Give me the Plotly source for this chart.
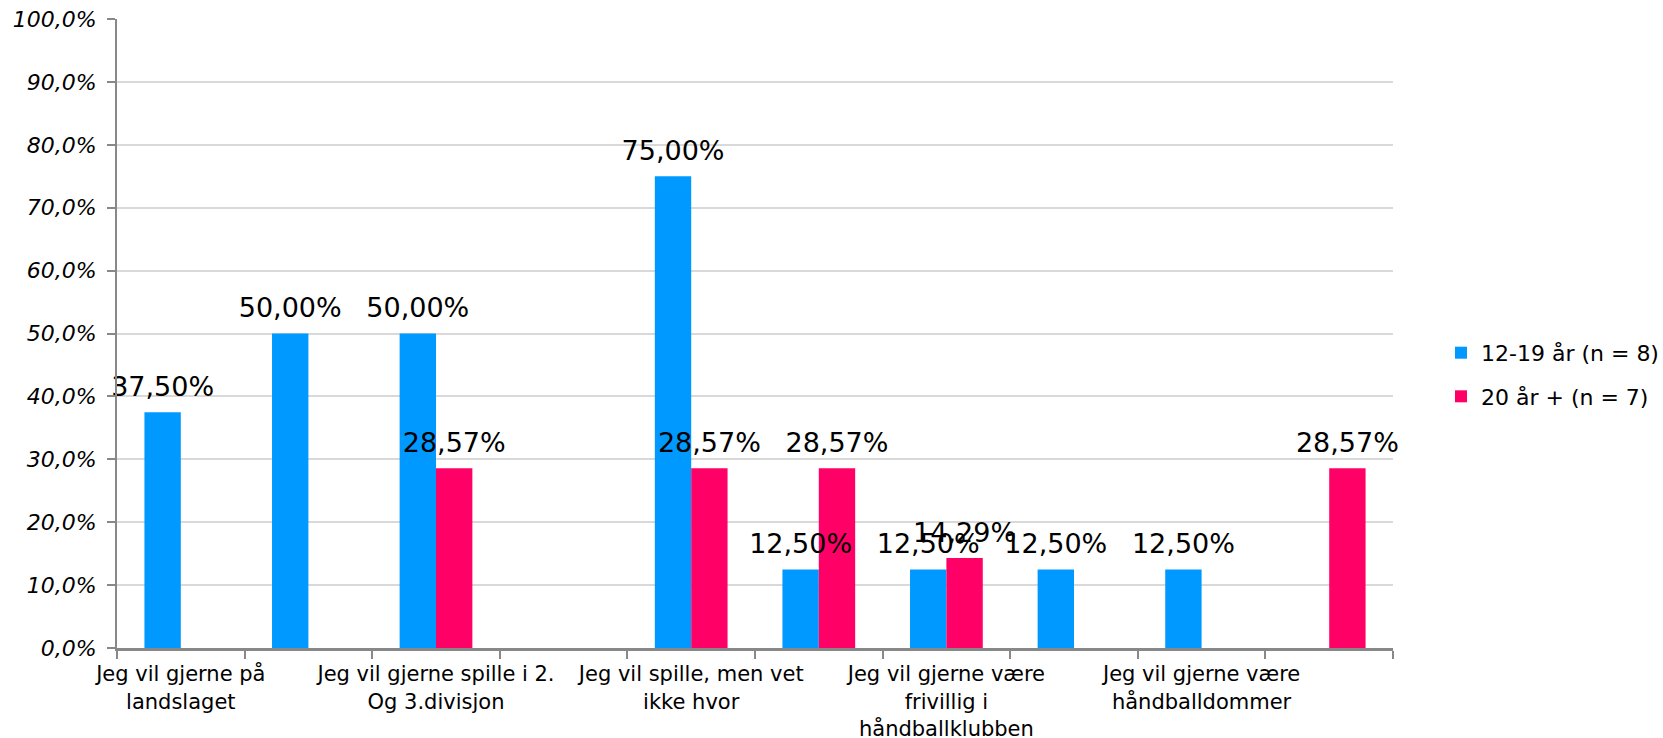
import plotly.graph_objects as go

# Data
category_keys = ["c1", "c2", "c3", "c4", "c5", "c6", "c7", "c8", "c9", "c10"]
category_labels = [
    "Jeg vil gjerne på<br>landslaget", "",
    "Jeg vil gjerne spille i 2.<br>Og 3.divisjon", "",
    "Jeg vil spille, men vet<br>ikke hvor", "",
    "Jeg vil gjerne være<br>frivillig i<br>håndballklubben", "",
    "Jeg vil gjerne være<br>håndballdommer", "",
]
series_names = ["12-19 år (n = 8)", "20 år + (n = 7)"]
values_12_19 = [37.5, 50.0, 50.0, None, 75.0, 12.5, 12.5, 12.5, 12.5, None]
values_20 = [None, None, 28.57, None, 28.57, 28.57, 14.29, None, None, 28.57]
colors = ["#0099FF", "#FF0066"]
y_ticks = [0, 10, 20, 30, 40, 50, 60, 70, 80, 90, 100]
y_tick_text = [f"{v:.1f}".replace(".", ",") + "%" for v in y_ticks]

FONT = "DejaVu Sans"
GAP = 0.43


def fmt(v):
    return "" if v is None else f"{v:.2f}".replace(".", ",") + "%"


fig = go.Figure()
all_series = [values_12_19, values_20]
for i, (name, vals) in enumerate(zip(series_names, all_series)):
    fig.add_trace(go.Bar(
        x=category_keys, y=vals, name=name,
        marker=dict(color=colors[i], line=dict(width=0)),
        textposition="none",
        offsetgroup=f"s{i}", alignmentgroup="a",
        legendgroup=f"g{i}",
    ))
# data labels drawn on top of all bars
for i, vals in enumerate(all_series):
    fig.add_trace(go.Scatter(
        x=category_keys, y=vals, mode="markers+text",
        text=[fmt(v) for v in vals], textposition="top center",
        textfont=dict(family=FONT, size=27, color="#000000"),
        marker=dict(size=14, color="rgba(0,0,0,0)"),
        offsetgroup=f"s{i}", alignmentgroup="a",
        showlegend=False, hoverinfo="skip", cliponaxis=False,
    ))

fig.update_layout(
    width=1663, height=738,
    margin=dict(l=117, r=270, t=19, b=90, autoexpand=False),
    paper_bgcolor="white", plot_bgcolor="white",
    barmode="group", bargap=GAP, bargroupgap=0,
    scattermode="group", scattergap=GAP,
    font=dict(family=FONT, color="#000000"),
    showlegend=True,
    legend=dict(xref="container", yref="container", x=0.8665, y=0.492,
                xanchor="left", yanchor="middle",
                font=dict(family=FONT, size=22, color="#000000"),
                traceorder="grouped", tracegroupgap=12,
                bgcolor="rgba(0,0,0,0)"),
    xaxis=dict(
        type="category", tickmode="array", tickvals=category_keys, ticktext=category_labels,
        tickson="boundaries", ticks="outside", ticklen=8, tickwidth=2, tickcolor="#888888",
        showline=True, linecolor="#888888", linewidth=3, showgrid=False,
        tickfont=dict(family=FONT, size=21, color="#000000"),
        tickangle=0, ticklabelstandoff=5, automargin=False,
    ),
    yaxis=dict(
        range=[0, 100], tickmode="array", tickvals=y_ticks, ticktext=y_tick_text,
        ticks="outside", ticklen=8, tickwidth=2, tickcolor="#888888",
        showline=True, linecolor="#888888", linewidth=2,
        showgrid=True, gridcolor="#d9d9d9", gridwidth=2,
        tickfont=dict(family=FONT, size=22, color="#000000", style="italic"),
        ticklabelstandoff=6,
        zeroline=False, automargin=False,
    ),
)

fig.write_html("out.html", config={"displayModeBar": False},
               post_script="document.body.style.margin='0';")
